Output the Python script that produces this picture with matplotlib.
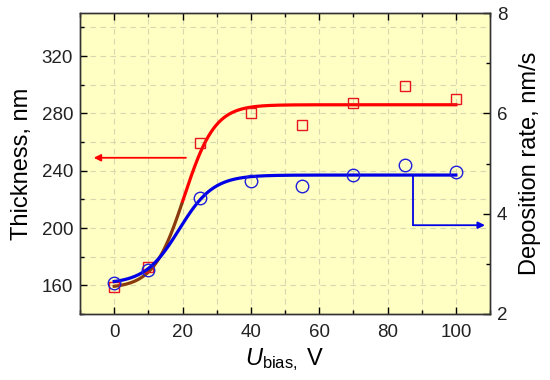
import numpy as np
import matplotlib.pyplot as plt

plt.rcParams['font.family'] = ['Liberation Sans', 'DejaVu Sans']
plt.rcParams['mathtext.fontset'] = 'custom'
plt.rcParams['mathtext.rm'] = 'Liberation Sans'
plt.rcParams['mathtext.it'] = 'Liberation Sans:italic'

# measured points
u_bias = [0, 10, 25, 40, 55, 70, 85, 100]
thickness = [159, 173, 259, 280, 272, 287, 299, 290]          # nm, left axis
dep_rate = [2.62, 2.88, 4.31, 4.65, 4.55, 4.77, 4.98, 4.83]    # nm/s, right axis

# Boltzmann fit parameters (A1, A2, x0, dx)
fit_thick = (158, 286, 20.5, 4.5)
fit_rate = (2.6, 4.77, 19, 5)


def boltzmann(x, a1, a2, x0, dx):
    return a2 + (a1 - a2) / (1 + np.exp((x - x0) / dx))


fig = plt.figure(figsize=(5.5, 3.8), dpi=100)
ax = fig.add_axes([0.1455, 0.1737, 0.7455, 0.792])
ax.set_facecolor('#FFFFC4')
ax2 = ax.twinx()

xf = np.linspace(0, 100, 400)
yt = boltzmann(xf, *fit_thick)
low = xf <= 20
ax.plot(xf[low], yt[low], color='#8B3A0E', lw=2.3, zorder=3)
ax.plot(xf[~low], yt[~low], color='#FF0000', lw=2.3, zorder=3)
ax.plot(u_bias, thickness, 's', ms=7.5, mfc='none', mec='#E8141E', mew=1.0, zorder=4)

ax2.plot(xf, boltzmann(xf, *fit_rate), color='#0000E6', lw=2.3, zorder=3)
ax2.plot(u_bias, dep_rate, 'o', ms=9, mfc='none', mec='#1E1EDC', mew=1.0, zorder=4)

# arrows
ax.annotate('', xy=(-6, 249), xytext=(21, 249),
            arrowprops=dict(arrowstyle='-|>', color='#FF0000', lw=1.3,
                            mutation_scale=10, shrinkA=0, shrinkB=0))
ax2.plot([87.5, 87.5], [4.77, 3.77], color='#0000E6', lw=1.3)
ax2.annotate('', xy=(108.5, 3.77), xytext=(87.5, 3.77),
             arrowprops=dict(arrowstyle='-|>', color='#0000E6', lw=1.3,
                             mutation_scale=10, shrinkA=0, shrinkB=0))

ax.set_xlim(-10, 110)
ax.set_ylim(140, 350)
ax2.set_ylim(2, 8)

ax.set_xticks([0, 20, 40, 60, 80, 100])
ax.set_xticks(np.arange(-10, 111, 10), minor=True)
ax.set_yticks([160, 200, 240, 280, 320])
ax.set_yticks(np.arange(140, 351, 20), minor=True)
ax2.set_yticks([2, 4, 6, 8])
ax2.set_yticks([3, 5, 7], minor=True)

ax.grid(True, which='both', axis='x', linestyle=(0, (5, 4)), color='#D8D8B0', lw=0.8)
ax.grid(True, which='both', axis='y', linestyle=(0, (5, 4)), color='#D8D8B0', lw=0.8)
ax.set_axisbelow(True)

for a in (ax, ax2):
    a.tick_params(which='both', direction='in', labelsize=13.5, width=1.0,
                  labelcolor='#222222')
    a.tick_params(which='major', length=5)
    a.tick_params(which='minor', length=3)
    for s in a.spines.values():
        s.set_linewidth(1.0)
        s.set_color('#333333')
ax.tick_params(which='both', top=True)
ax.tick_params(axis='x', pad=7)
ax.tick_params(axis='y', pad=5)
ax2.tick_params(axis='y', pad=5)

ax.set_xlabel(r'$U_{\mathrm{bias},}$ V', fontsize=17, labelpad=4)
ax.set_ylabel('Thickness, nm', fontsize=17, labelpad=6)
ax2.set_ylabel('Deposition rate, nm/s', fontsize=17, labelpad=8)

fig.savefig('out.png', dpi=100)
